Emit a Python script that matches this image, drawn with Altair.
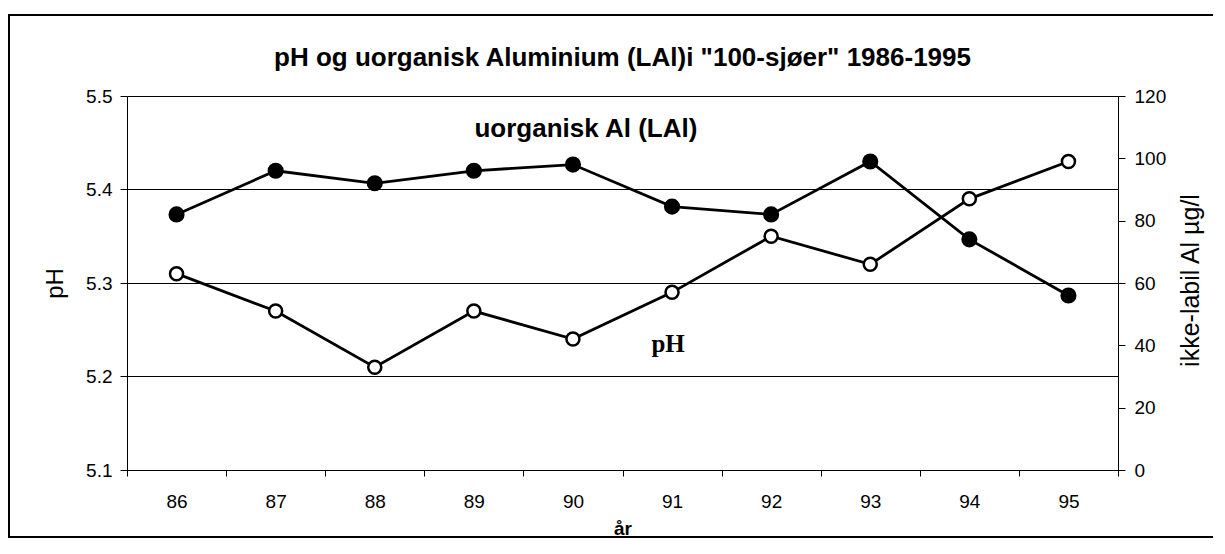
import altair as alt
import pandas as pd

years = ["86", "87", "88", "89", "90", "91", "92", "93", "94", "95"]
ph_values = [5.31, 5.27, 5.21, 5.27, 5.24, 5.29, 5.35, 5.32, 5.39, 5.43]
al_values = [82, 96, 92, 96, 98, 84.5, 82, 99, 74, 56]

title_text = 'pH og uorganisk Aluminium (LAl)i "100-sjøer" 1986-1995'
x_title = "år"
left_title = "pH"
right_title = "ikke-labil Al µg/l"
ph_ticks = [5.1, 5.2, 5.3, 5.4, 5.5]
al_ticks = [0, 20, 40, 60, 80, 100, 120]

ann_al_year = ["90"]
ann_al_ph = [5.456]
ann_al_text = ["uorganisk Al (LAl)"]
ann_ph_year = ["91"]
ann_ph_ph = [5.226]
ann_ph_text = ["pH"]

FONT = "Liberation Sans"

df = pd.DataFrame({"year": years, "ph": ph_values, "al": al_values})
df_ann_al = pd.DataFrame({"year": ann_al_year, "ph": ann_al_ph, "label": ann_al_text})
df_ann_ph = pd.DataFrame({"year": ann_ph_year, "ph": ann_ph_ph, "label": ann_ph_text})

xenc = alt.X(
    "year:O",
    sort=years,
    scale=alt.Scale(type="band", paddingInner=0, paddingOuter=0, domain=years),
    axis=alt.Axis(
        title=x_title,
        tickBand="extent",
        labelAngle=0,
        labelFontSize=19,
        labelPadding=16,
        tickSize=6,
        titleFontSize=19,
        titleFontWeight="bold",
        titleY=58,
        titleBaseline="middle",
    ),
)

yl = alt.Y(
    "ph:Q",
    scale=alt.Scale(domain=[5.1, 5.5], nice=False, zero=False),
    axis=alt.Axis(
        title=left_title,
        values=ph_ticks,
        format=".1f",
        grid=True,
        gridColor="black",
        gridWidth=1,
        tickSize=7,
        labelPadding=8,
        labelFontSize=19,
        titleFontSize=24,
        titleFontWeight="normal",
        titleAngle=270,
        titleX=-72,
        titleY=187,
        titleBaseline="middle",
        titleAlign="center",
    ),
)

yr = alt.Y(
    "al:Q",
    scale=alt.Scale(domain=[0, 120], nice=False),
    axis=alt.Axis(
        orient="right",
        title=right_title,
        values=al_ticks,
        grid=False,
        tickSize=7,
        labelPadding=9,
        labelFontSize=19,
        titleFontSize=25,
        titleFontWeight="normal",
        titleAngle=270,
        titleX=72,
        titleY=184,
        titleBaseline="middle",
        titleAlign="center",
    ),
)

base = alt.Chart(df)

ph_line = base.mark_line(color="black", strokeWidth=2.8).encode(x=xenc, y=yl)
ph_pts = base.mark_point(
    filled=True, fill="white", stroke="black", strokeWidth=2.5, size=170, opacity=1
).encode(x=xenc, y=yl)

ann1 = alt.Chart(df_ann_al).mark_text(
    font=FONT, fontSize=26, fontWeight="bold", dx=13, baseline="alphabetic",
    align="center", color="black"
).encode(x=alt.X("year:O", sort=years), y=alt.Y("ph:Q"), text="label:N")

ann2 = alt.Chart(df_ann_ph).mark_text(
    font="Liberation Serif", fontSize=25, fontWeight="bold", dx=-4,
    baseline="alphabetic", align="center", color="black"
).encode(x=alt.X("year:O", sort=years), y=alt.Y("ph:Q"), text="label:N")

left = alt.layer(ph_line, ph_pts, ann1, ann2)

al_line = base.mark_line(color="black", strokeWidth=2.8).encode(x=xenc, y=yr)
al_pts = base.mark_point(
    filled=True, fill="black", stroke="black", size=200, opacity=1
).encode(x=xenc, y=yr)

right = alt.layer(al_line, al_pts)

frame = alt.Chart(pd.DataFrame({"a": [0]})).mark_rect(
    fill="white", fillOpacity=0, stroke="black", strokeWidth=2
).encode(
    x=alt.value(-118), x2=alt.value(1100), y=alt.value(-81), y2=alt.value(441)
)

chart = (
    alt.layer(frame, left, right)
    .resolve_scale(y="independent")
    .properties(
        width=991,
        height=374,
        padding={"left": 119, "top": 88, "right": 95, "bottom": 68},
        autosize=alt.AutoSizeParams(type="none"),
        title=alt.TitleParams(
            text=title_text,
            fontSize=26,
            fontWeight="bold",
            font=FONT,
            anchor="middle",
            frame="group",
            baseline="alphabetic",
            offset=-78,
            color="black",
        ),
    )
    .configure(font=FONT)
    .configure_axis(
        labelFont=FONT,
        titleFont=FONT,
        domainColor="black",
        tickColor="black",
        labelColor="black",
        titleColor="black",
        domainWidth=1,
        tickWidth=1,
    )
    .configure_view(stroke=None)
)

chart.save("out.html", embed_options={"renderer": "svg", "actions": False})
